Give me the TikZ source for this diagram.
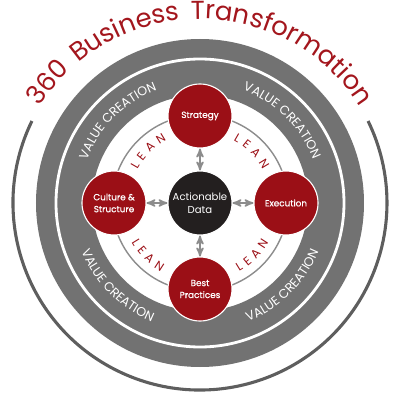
\documentclass[tikz,border=0pt]{standalone}
\usepackage{fontspec}
\setmainfont{Poppins}
\newfontfamily\leanfont[WordSpace=2.2]{Poppins}
\newfontfamily\nodefont[FakeBold=0.8]{Poppins}
\newfontfamily\titlefont[WordSpace=1.5]{Poppins}
\usepackage{xcolor}
\usepackage{tikz}
\usetikzlibrary{arrows}
\usetikzlibrary{decorations.text}
\definecolor{deepred}{HTML}{9B0F16}
\definecolor{titlered}{HTML}{A3161D}
\definecolor{bandgray}{HTML}{727272}
\definecolor{ringgray}{HTML}{5E5E5E}
\definecolor{linkgray}{HTML}{8C8C8C}
\definecolor{hubblack}{HTML}{231F1F}
\tikzset{
	main node/.style={circle,fill=deepred,draw=white,line width=0.8pt,minimum size=16mm,
		inner sep=0pt,text=white,align=center,font=\nodefont\fontsize{6.3}{8.5}\selectfont},
	hub node/.style={circle,fill=hubblack,draw=white,line width=0.8pt,minimum size=16mm,
		inner sep=0pt,text=white,align=center,font=\fontsize{7.2}{9.4}\selectfont},
	link/.style={<->,>=stealth',draw=linkgray,line width=1.2pt},
	arc text/.style={decorate,decoration={text along path,text align=center,text color=#1}}
}
\newcommand{\valuetext}{|\fontsize{9}{9}\selectfont|VALUE CREATION}
\newcommand{\leantext}{|\leanfont\fontsize{8.5}{8.5}\selectfont|L E A N}

\begin{document}
\begin{tikzpicture}[x=0.25mm,y=0.25mm]
	\useasboundingbox (-200,-197) rectangle (200,203);
	\draw[ringgray,line width=2.2pt] (154:187) arc[start angle=154,end angle=386,radius=187];
	\fill[bandgray,even odd rule] (0,0) circle[radius=164] (0,0) circle[radius=108];
	\draw[white,line width=2pt] (0,0) circle[radius=144];
	\draw[linkgray,line width=1pt] (0,0) circle[radius=88];
	\path[shift={(0,-6)},arc text=titlered,
		decoration={text={|\titlefont\fontsize{18.5}{18.5}\selectfont|360 Business Transformation}}]
		(175:190) arc[start angle=175,end angle=5,radius=190];
	\foreach \a in {45,135}{
		\path[arc text=white,decoration={text=\valuetext}]
			({\a+40}:121) arc[start angle=\a+40,end angle=\a-40,radius=121];
		\path[arc text=deepred,decoration={text=\leantext}]
			({\a+40}:71) arc[start angle=\a+40,end angle=\a-40,radius=71];
	}
	\foreach \a in {225,315}{
		\path[arc text=white,decoration={text=\valuetext}]
			({\a-40}:128) arc[start angle=\a-40,end angle=\a+40,radius=128];
		\path[arc text=deepred,decoration={text=\leantext}]
			({\a-40}:79) arc[start angle=\a-40,end angle=\a+40,radius=79];
	}
	\node [hub node] (data) at (0,0) {Actionable\\Data};
	\node [main node] (strategy) at (0,87) {Strategy};
	\node [main node] (execution) at (86,0) {Execution};
	\node [main node] (culture) at (-86,0) {Culture \&\\Structure};
	\node [main node] (practices) at (0,-86) {Best\\Practices};
	\draw[link] (data) -- (strategy);
	\draw[link] (data) -- (execution);
	\draw[link] (data) -- (culture);
	\draw[link] (data) -- (practices);
\end{tikzpicture}
\end{document}
